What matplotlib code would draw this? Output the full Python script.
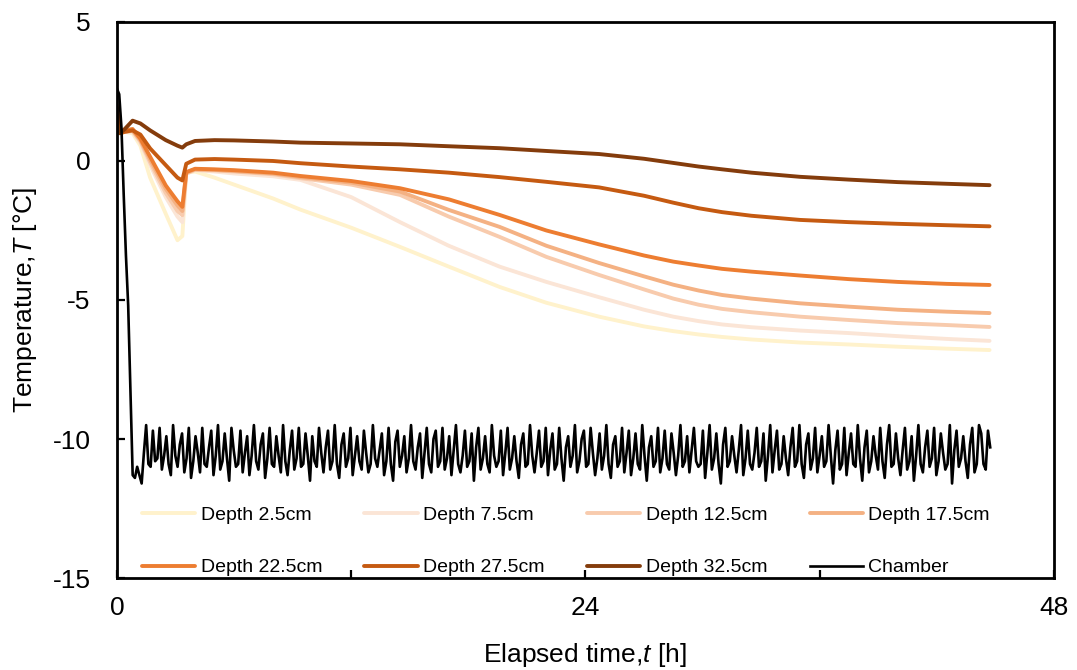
import numpy as np
import matplotlib
matplotlib.use("Agg")
import matplotlib.pyplot as plt

plt.rcParams['font.family'] = ['Liberation Sans', 'DejaVu Sans']
plt.rcParams['mathtext.fontset'] = 'custom'
plt.rcParams['mathtext.it'] = 'Liberation Sans:italic'
plt.rcParams['mathtext.rm'] = 'Liberation Sans'
plt.rcParams['axes.unicode_minus'] = False

t_depth = [0, 0.15, 0.4, 0.8, 1.2, 1.7, 2.5, 3.1, 3.35, 3.55, 4.0, 5, 6, 8, 9.4,
           12, 14.5, 17, 19.6, 22, 24.7, 27, 28.5, 29.8, 31, 32.5, 35, 37.5, 40, 42.5, 44.7]

d2_5 = [1.9, 1.0, 1.05, 1.0, 0.55, -0.6, -1.9, -2.85, -2.7, -0.42, -0.38, -0.6, -0.85, -1.35, -1.75,
        -2.4, -3.09, -3.8, -4.53, -5.1, -5.6, -5.95, -6.12, -6.24, -6.33, -6.42, -6.53, -6.6, -6.68, -6.75, -6.8]
d7_5 = [1.7, 1.0, 1.05, 1.05, 0.65, -0.15, -1.3, -2.0, -2.2, -0.45, -0.33, -0.38, -0.45, -0.55, -0.68,
        -1.3, -2.2, -3.05, -3.8, -4.35, -4.9, -5.35, -5.6, -5.76, -5.88, -5.98, -6.1, -6.19, -6.3, -6.4, -6.47]
d12_5 = [1.6, 1.0, 1.05, 1.08, 0.7, -0.05, -1.15, -1.8, -1.95, -0.45, -0.32, -0.34, -0.38, -0.48, -0.62,
         -0.85, -1.22, -2.0, -2.73, -3.45, -4.1, -4.62, -4.95, -5.17, -5.32, -5.44, -5.6, -5.72, -5.83, -5.9, -5.97]
d17_5 = [1.5, 1.0, 1.05, 1.1, 0.75, 0.05, -1.0, -1.6, -1.8, -0.42, -0.3, -0.32, -0.36, -0.45, -0.58,
         -0.78, -1.1, -1.76, -2.37, -3.05, -3.67, -4.15, -4.45, -4.66, -4.82, -4.95, -5.12, -5.24, -5.35, -5.42, -5.47]
d22_5 = [2.0, 1.0, 1.1, 1.15, 0.8, 0.15, -0.88, -1.45, -1.65, -0.4, -0.28, -0.3, -0.33, -0.42, -0.54,
         -0.72, -0.98, -1.38, -1.94, -2.5, -3.0, -3.4, -3.62, -3.76, -3.88, -3.98, -4.12, -4.25, -4.35, -4.42, -4.46]
d27_5 = [1.8, 1.0, 1.05, 1.1, 0.95, 0.45, -0.15, -0.6, -0.7, -0.1, 0.05, 0.07, 0.05, 0.0, -0.08,
         -0.2, -0.3, -0.42, -0.58, -0.75, -0.95, -1.25, -1.5, -1.7, -1.84, -1.97, -2.12, -2.2, -2.26, -2.31, -2.35]
d32_5 = [1.9, 1.0, 1.15, 1.45, 1.35, 1.1, 0.75, 0.55, 0.48, 0.6, 0.72, 0.75, 0.74, 0.7, 0.66,
         0.63, 0.6, 0.53, 0.46, 0.36, 0.25, 0.08, -0.07, -0.2, -0.3, -0.42, -0.57, -0.67, -0.76, -0.82, -0.87]

# chamber air temperature, logged every 0.115 h from t = 0
chamber_dt = 0.115
chamber = [
    2.6, 2.4, 1.2, -1.2, -3.4, -5.2, -8.3, -11.3, -11.4, -11.0, -11.3, -11.6, -10.5, -9.5,
    -10.9, -11.0, -9.7, -10.8, -10.7, -9.6, -11.1, -10.6, -9.9, -10.9,
    -11.3, -9.5, -10.6, -11.0, -10.2, -9.8, -11.2, -10.7, -9.6, -11.4,
    -10.8, -9.9, -10.5, -11.2, -9.6, -10.9, -11.0, -10.3, -9.7, -11.3,
    -10.6, -9.5, -11.1, -10.8, -9.8, -10.7, -11.5, -9.6, -10.4, -11.0,
    -10.9, -9.7, -11.2, -10.5, -9.9, -11.3, -10.6, -9.5, -10.8, -11.1,
    -10.2, -9.8, -11.4, -10.7, -9.6, -10.9, -11.0, -9.9, -10.6, -11.2,
    -9.5, -10.8, -11.3, -10.4, -9.7, -11.1, -10.7, -9.6, -11.0, -10.9,
    -9.8, -10.6, -11.5, -9.9, -10.8, -11.0, -9.6, -10.5, -11.2, -10.3,
    -9.7, -11.1, -10.8, -9.5, -10.9, -11.4, -10.2, -9.8, -11.0, -10.7,
    -9.6, -11.3, -10.6, -9.9, -10.8, -11.1, -9.7, -10.5, -11.2, -10.9,
    -9.5, -10.7, -11.0, -10.4, -9.8, -11.3, -10.8, -9.6, -10.9, -11.5,
    -10.1, -9.7, -11.0, -10.6, -9.9, -11.2, -10.7, -9.5, -10.8, -11.1,
    -10.3, -9.8, -11.4, -10.5, -9.6, -10.9, -11.2, -10.0, -9.7, -11.0,
    -10.8, -9.6, -11.1, -10.7, -9.9, -11.3, -10.4, -9.5, -10.9, -11.2,
    -10.6, -9.7, -11.0, -10.8, -9.8, -11.5, -10.3, -9.6, -11.1, -10.7,
    -9.9, -10.9, -11.2, -9.5, -10.6, -11.0, -10.8, -9.7, -11.3, -10.5,
    -9.6, -11.1, -10.7, -9.9, -10.8, -11.4, -10.2, -9.8, -11.0, -10.9,
    -9.5, -10.6, -11.2, -10.5, -9.7, -11.0, -10.8, -9.6, -11.3, -10.4,
    -9.8, -11.1, -10.9, -9.6, -10.7, -11.5, -10.3, -9.9, -11.0, -10.6,
    -9.5, -11.2, -10.8, -10.0, -9.7, -11.0, -10.9, -9.6, -10.5, -11.3,
    -10.7, -9.8, -11.1, -10.6, -9.5, -10.9, -11.4, -10.2, -9.9, -11.0,
    -10.8, -9.6, -11.2, -10.5, -9.7, -11.3, -10.7, -9.8, -10.9, -11.1,
    -9.5, -10.6, -11.5, -10.3, -9.9, -11.0, -10.8, -9.6, -11.2, -10.7,
    -9.7, -10.9, -11.1, -9.8, -10.5, -11.3, -10.6, -9.5, -11.0, -10.8,
    -9.9, -11.2, -10.4, -9.6, -10.8, -11.0, -10.9, -9.7, -11.4, -10.5,
    -9.5, -11.1, -10.7, -9.8, -10.9, -11.6, -10.2, -9.6, -11.0, -10.8,
    -9.9, -10.6, -11.2, -10.4, -9.5, -11.3, -10.7, -9.7, -10.9, -11.1,
    -10.5, -9.6, -11.0, -10.8, -9.8, -11.5, -10.6, -9.5, -11.2, -10.4,
    -9.7, -11.1, -10.9, -9.9, -10.7, -11.3, -10.3, -9.6, -11.0, -10.8,
    -9.5, -10.9, -11.4, -10.2, -9.8, -11.1, -10.7, -9.6, -11.2, -10.6,
    -9.9, -11.0, -10.8, -9.5, -10.6, -11.6, -10.4, -9.7, -11.1, -10.9,
    -9.6, -11.3, -10.5, -9.8, -10.9, -11.0, -9.5, -10.7, -11.5, -10.3,
    -9.7, -11.2, -10.8, -9.9, -10.6, -11.1, -9.6, -10.8, -11.4, -10.2,
    -9.5, -11.0, -10.9, -9.8, -10.7, -11.3, -10.4, -9.6, -11.1, -10.8,
    -9.9, -11.5, -10.6, -9.5, -10.9, -11.2, -10.3, -9.7, -11.0, -10.7,
    -9.6, -11.3, -10.8, -9.8, -10.5, -11.1, -10.9, -9.5, -11.6, -10.4,
    -9.7, -11.0, -10.7, -9.9, -10.8, -11.4, -10.2, -9.6, -11.2, -10.9,
    -9.5, -9.8, -10.9, -11.1, -9.7, -10.3,
]
t_chamber = np.arange(len(chamber)) * chamber_dt

labels = ['Depth 2.5cm', 'Depth 7.5cm', 'Depth 12.5cm', 'Depth 17.5cm',
          'Depth 22.5cm', 'Depth 27.5cm', 'Depth 32.5cm', 'Chamber']
colors = ['#FFF2CC', '#FBE5D6', '#F8CBAD', '#F4B183',
          '#ED7D31', '#C55A11', '#843C0C']
depth_series = [d2_5, d7_5, d12_5, d17_5, d22_5, d27_5, d32_5]

fig = plt.figure(figsize=(10.77, 6.70), dpi=100)
ax = fig.add_axes([0.1086, 0.1373, 0.870, 0.8299])

handles = []
for vals, c, lab in zip(depth_series, colors, labels):
    h, = ax.plot(t_depth, vals, color=c, lw=2.8, label=lab,
                 solid_joinstyle='round', solid_capstyle='round')
    handles.append(h)
h, = ax.plot(t_chamber, chamber, color='black', lw=1.9, label=labels[-1],
             solid_joinstyle='round')
handles.append(h)

ax.set_xlim(0, 48)
ax.set_ylim(-15, 5)
ax.set_xticks([0, 24, 48])
ax.set_xticks([12, 36], minor=True)
ax.set_yticks([-15, -10, -5, 0, 5])

ax.tick_params(axis='both', which='both', direction='in', length=6, width=1.6,
               labelsize=19)
ax.tick_params(axis='y', pad=19)
ax.tick_params(axis='x', pad=13)
for sp in ax.spines.values():
    sp.set_linewidth(2.0)

ax.set_xlabel('Elapsed time,$\\mathit{t}$ [h]', fontsize=19)
ax.set_ylabel('Temperature,$\\mathit{T}$ [°C]', fontsize=19)
ax.xaxis.set_label_coords(0.5, -0.1385)
ax.xaxis.label.set_va('center')
ax.yaxis.set_label_coords(-0.098, 0.5)
ax.yaxis.label.set_va('center')

# legend fills row by row: 4 entries on top, 4 below
order = [0, 4, 1, 5, 2, 6, 3, 7]
ax.legend([handles[i] for i in order], [labels[i] for i in order],
          loc='center', bbox_to_anchor=(0.0267, 0.056, 0.905, 0.02),
          mode='expand', ncol=4, frameon=False, fontsize=14,
          handlelength=2.73, handletextpad=0.3, labelspacing=1.8,
          borderpad=0, borderaxespad=0)

fig.savefig('out.png', dpi=100)
